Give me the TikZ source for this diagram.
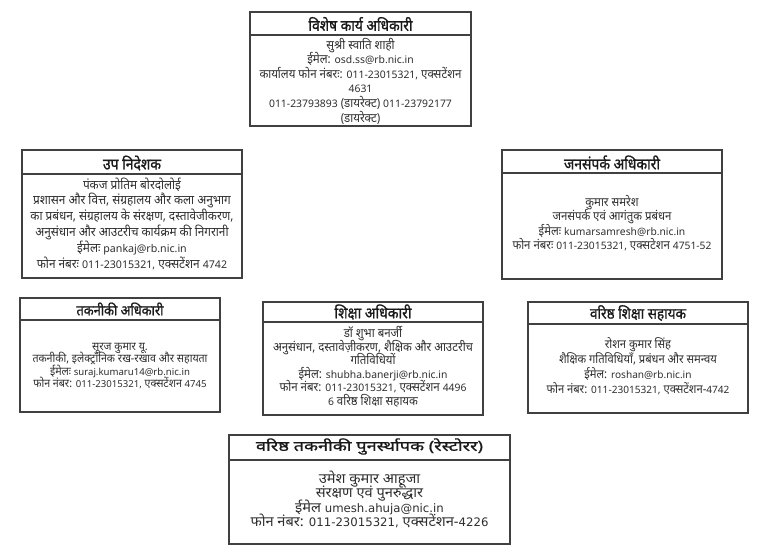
\documentclass[tikz,border=0pt]{standalone}
\usepackage{graphicx}
\usepackage{fontspec}
\setmainfont{Noto Sans}[Script=Devanagari, FakeStretch=0.92]
\newfontfamily\lat{Noto Sans}[Scale=0.83]
\newfontfamily\hfont{Noto Sans}[Script=Devanagari, FakeBold=1.1, FakeStretch=0.9]
\newfontfamily\wfont{Noto Sans}[Script=Devanagari, FakeStretch=1.05]
\newfontfamily\wlat{DejaVu Sans}[Scale=0.84]
\newfontfamily\whfont{Noto Sans}[Script=Devanagari, FakeBold=1.1, FakeStretch=1.3]
\newcommand\ltn[1]{{\lat #1}}
\newcommand\ltw[1]{{\wlat #1}}
\newlength\mylen
\newcommand\calcsize[3]{\settowidth\mylen{\fontsize{10}{12}\selectfont #3}\pgfmathsetmacro#1{10*#2/\mylen}}
\begin{document}
\lineskiplimit=-100pt\relax
\calcsize\szA{202}{कार्यालय फोन नंबरः: \ltn{011-23015321,} एक्सटेंशन}%
\calcsize\szB{203}{का प्रबंधन, संग्रहालय के संरक्षण, दस्तावेजीकरण,}%
\calcsize\szC{199}{फोन नंबरः \ltn{011-23015321,} एक्सटेशन \ltn{4751-52}}%
\calcsize\szD{175}{तकनीकी, इलेक्ट्रॉनिक रख-रखाव और सहायता}%
\calcsize\szE{200}{अनुसंधान, दस्तावेज़ीकरण, शैक्षिक और आउटरीच}%
\calcsize\szF{183}{फोन नंबर: \ltn{011-23015321,} एक्सटेंशन-\ltn{4742}}%
\calcsize\szG{238}{\wfont फोन नंबर: \ltw{011-23015321,} एक्सटेंशन-\ltw{4226}}%
\begin{tikzpicture}[x=1pt,y=-1pt,
  box/.style={draw=black!75, line width=1.2pt},
  ttl/.style={inner sep=0pt, text=black!90},
  body/.style={inner sep=0pt, align=center, text=black!82}]
\useasboundingbox (0,0) rectangle (770,555);
% box 1
\draw[box] (250,12) rectangle (471,126);
\draw[box] (250,35) -- (471,35);
\node[ttl] (t1) at (360.5,24) {\resizebox{104pt}{!}{\hfont विशेष कार्य अधिकारी}};
\node[body, font=\fontsize{\szA}{14.6}\selectfont] (d1) at (360.5,81) {सुश्री स्वाति शाही\\ईमेल: \ltn{osd.ss@rb.nic.in}\\कार्यालय फोन नंबरः: \ltn{011-23015321,} एक्सटेंशन\\\ltn{4631}\\\ltn{011-23793893} (डायरेक्ट) \ltn{011-23792177}\\(डायरेक्ट)};
% box 2
\draw[box] (22,150) rectangle (242,278);
\draw[box] (22,174) -- (242,174);
\node[ttl] (t2) at (132,163) {\resizebox{58pt}{!}{\hfont उप निदेशक}};
\node[body, font=\fontsize{\szB}{15.8}\selectfont] (d2) at (132,223.5) {पंकज प्रोतिम बोरदोलोई\\प्रशासन और वित्त, संग्रहालय और कला अनुभाग\\का प्रबंधन, संग्रहालय के संरक्षण, दस्तावेजीकरण,\\अनुसंधान और आउटरीच कार्यक्रम की निगरानी\\ईमेलः \ltn{pankaj@rb.nic.in}\\फोन नंबरः \ltn{011-23015321,} एक्सटेंशन \ltn{4742}};
% box 3
\draw[box] (502,150) rectangle (722,279);
\draw[box] (502,173) -- (722,173);
\node[ttl] (t3) at (612,162.5) {\resizebox{96pt}{!}{\hfont जनसंपर्क अधिकारी}};
\node[body, font=\fontsize{\szC}{14.5}\selectfont] (d3) at (612,223) {कुमार समरेश\\जनसंपर्क एवं आगंतुक प्रबंधन\\ईमेलः \ltn{kumarsamresh@rb.nic.in}\\फोन नंबरः \ltn{011-23015321,} एक्सटेशन \ltn{4751-52}};
% box 4
\draw[box] (20,298) rectangle (220,412);
\draw[box] (20,320) -- (220,320);
\node[ttl] (t4) at (120,309) {\resizebox{87pt}{!}{\hfont तकनीकी अधिकारी}};
\node[body, font=\fontsize{\szD}{12.6}\selectfont] (d4) at (120,366) {सूरज कुमार यू.\\तकनीकी, इलेक्ट्रॉनिक रख-रखाव और सहायता\\ईमेलः \ltn{suraj.kumaru14@rb.nic.in}\\फोन नंबर: \ltn{011-23015321,} एक्सटेंशन \ltn{4745}};
% box 5
\draw[box] (263,302) rectangle (483,415);
\draw[box] (263,322) -- (483,322);
\node[ttl] (t5) at (373,312) {\resizebox{77pt}{!}{\hfont शिक्षा अधिकारी}};
\node[body, font=\fontsize{\szE}{13.5}\selectfont] (d5) at (373,367) {डॉ शुभा बनर्जी\\अनुसंधान, दस्तावेज़ीकरण, शैक्षिक और आउटरीच\\गतिविधियों\\ईमेल: \ltn{shubha.banerji@rb.nic.in}\\फोन नंबर: \ltn{011-23015321,} एक्सटेंशन \ltn{4496}\\\ltn{6} वरिष्ठ शिक्षा सहायक};
% box 6
\draw[box] (528,302) rectangle (748,413);
\draw[box] (528,324) -- (748,324);
\node[ttl] (t6) at (638,313) {\resizebox{96pt}{!}{\hfont वरिष्ठ शिक्षा सहायक}};
\node[body, font=\fontsize{\szF}{15.2}\selectfont] (d6) at (638,366) {रोशन कुमार सिंह\\शैक्षिक गतिविधियाँ, प्रबंधन और समन्वय\\ईमेल: \ltn{roshan@rb.nic.in}\\फोन नंबर: \ltn{011-23015321,} एक्सटेंशन-\ltn{4742}};
% box 7
\draw[box] (229,435) rectangle (510,544);
\draw[box] (229,460) -- (510,460);
\node[ttl] (t7) at (369.5,446.5) {\resizebox{227pt}{!}{\whfont वरिष्ठ तकनीकी पुनर्स्थापक (रेस्टोरर)}};
\node[body, font=\fontsize{\szG}{14.5}\selectfont\wfont] (d7) at (369.5,499.5) {उमेश कुमार आहूजा\\संरक्षण एवं पुनरुद्धार\\ईमेल \ltw{umesh.ahuja@nic.in}\\फोन नंबर: \ltw{011-23015321,} एक्सटेंशन-\ltw{4226}};
\end{tikzpicture}
\end{document}
